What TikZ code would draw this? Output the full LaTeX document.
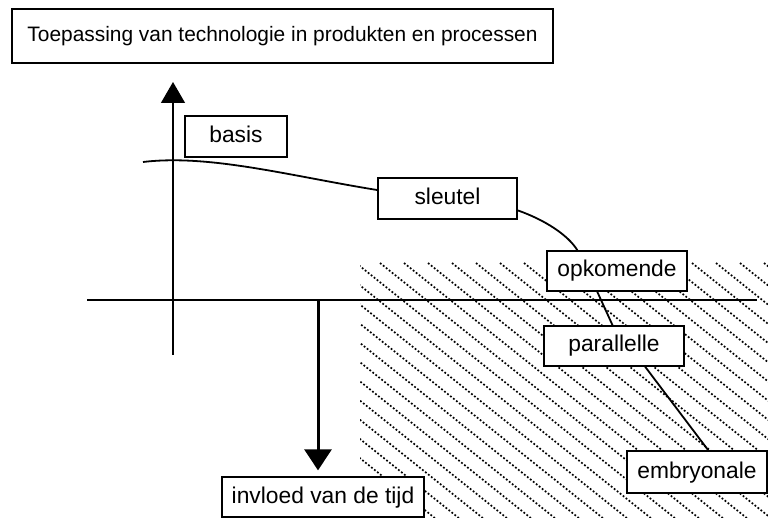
\documentclass[tikz,border=0pt]{standalone}
\usepackage{fontspec}
\setmainfont{Liberation Sans}
\usetikzlibrary{arrows.meta,calc}

\tikzset{
  label box/.style={draw, line width=1.3pt, fill=white, inner sep=0pt,
    font=\fontsize{22.8}{27}\selectfont, text height=16pt, text depth=4pt},
  axis line/.style={line width=1.3pt},
  trend line/.style={line width=1.8pt},
  hatch line/.style={line width=1.7pt, dash pattern=on 1.8pt off 2pt}
}

\begin{document}
\begin{tikzpicture}[x=1pt, y=-1pt]
  \useasboundingbox (0,0) rectangle (768,518);

  % hatched zone in the lower right
  \begin{scope}
    \clip (360,263) rectangle (768,518);
    \foreach \k in {-14,...,17}
      \draw[hatch line] ({380+24*\k},263) -- ++(340,272);
  \end{scope}

  % axes
  \coordinate (ybot) at (173,355);
  \coordinate (ytop) at (173,82);
  \coordinate (xleft) at (87,300);
  \coordinate (xright) at (757,300);
  \coordinate (tstart) at (318,300);
  \coordinate (cstart) at (143,162);
  \draw[axis line] (xleft) -- (xright);
  \draw[axis line, -{Triangle[width=24pt,length=21pt]}] (ybot) -- (ytop);

  % boxes
  \node[draw, line width=1.3pt, fill=white, minimum width=541pt, minimum height=54pt,
        font=\fontsize{20.9}{24}\selectfont] (title) at (282.5,36)
        {Toepassing van technologie in produkten en processen};
  \node[label box, minimum width=102pt, minimum height=41pt] (basis) at (236,136.5) {basis};
  \node[label box, minimum width=139pt, minimum height=41pt] (sleutel) at (447.5,198.5) {sleutel};
  \node[label box, minimum width=140pt, minimum height=40pt] (opkomende) at (617,271) {opkomende};
  \node[label box, minimum width=140pt, minimum height=40pt] (parallelle) at (614,346) {parallelle};
  \node[label box, minimum width=140pt, minimum height=42pt] (embryonale) at (697,472) {embryonale};
  \node[label box, minimum width=202pt, minimum height=40pt] (invloed) at (323,497) {invloed van de tijd};

  % time arrow
  \draw[line width=3pt, -{Triangle[width=27pt,length=21pt]}, shorten >=6pt]
    (tstart) -- (invloed.north -| tstart);

  % trend curve through the technology stages
  \draw[trend line] (cstart) .. controls (210,154) and (290,176) ..
    ($(sleutel.north west)!0.3!(sleutel.south west)$);
  \draw[trend line] ($(sleutel.north east)!0.78!(sleutel.south east)$)
    .. controls (545,220) and (568,235) ..
    ($(opkomende.north west)!0.22!(opkomende.north east)$);
  \draw[trend line] ($(opkomende.south west)!0.36!(opkomende.south east)$) --
    ($(parallelle.north west)!0.49!(parallelle.north east)$);
  \draw[trend line] ($(parallelle.south west)!0.72!(parallelle.south east)$) --
    ($(embryonale.north west)!0.58!(embryonale.north east)$);
\end{tikzpicture}
\end{document}
